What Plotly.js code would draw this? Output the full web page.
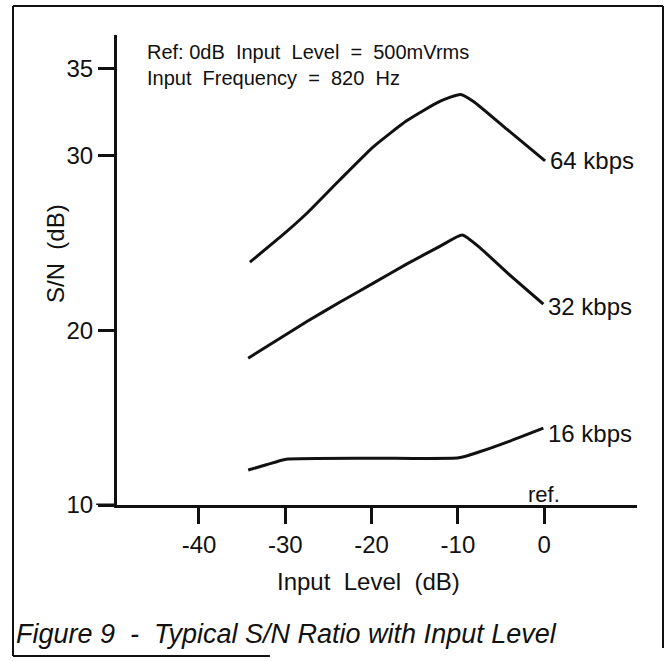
<!DOCTYPE html>
<html>
<head>
<meta charset="utf-8">
<script src="https://cdn.plot.ly/plotly-3.0.1.min.js"></script>
<style>
  html, body { margin: 0; padding: 0; background: #fff; }
  #chart { width: 671px; height: 661px; }
</style>
</head>
<body>
<div id="chart"></div>
<script>
// ---- data ----
var x64 = [-34.1, -30.2, -27.5, -23.7, -19.8, -15.9, -12.1, -9.7, -8.2, -4.3, 0.1];
var y64 = [23.9, 25.5, 26.7, 28.6, 30.5, 32.0, 33.1, 33.5, 33.1, 31.5, 29.7];

var x32 = [-34.3, -31.4, -27.5, -23.7, -19.8, -15.9, -12.1, -9.5, -7.4, -4.3, -0.1];
var y32 = [18.4, 19.3, 20.5, 21.6, 22.7, 23.8, 24.8, 25.45, 24.7, 23.3, 21.5];

var x16 = [-34.3, -32.2, -29.9, -19.8, -9.9, -7.4, -4.3, -0.1];
var y16 = [12.0, 12.3, 12.62, 12.68, 12.7, 13.06, 13.6, 14.4];

var seriesNames = ['64 kbps', '32 kbps', '16 kbps'];
var xTickVals = [-40, -30, -20, -10, 0];
var xTickText = ['-40', '-30', '-20', '-10', '0'];
var yTickVals = [10, 20, 30, 35];
var yTickText = ['10', '20', '30', '35'];

var FONT = 'Liberation Sans, Arial, Helvetica, sans-serif';
var INK = '#111';
var NB = '\u00A0';

var xs = [x64, x32, x16];
var ys = [y64, y32, y16];

var traces = xs.map(function (xv, i) {
  return {
    x: xv, y: ys[i], name: seriesNames[i], type: 'scatter', mode: 'lines',
    line: { color: INK, width: 3, shape: 'spline', smoothing: 0.5 },
    hoverinfo: 'skip'
  };
});

var labelYShift = [0, -2, -5];
var annotations = xs.map(function (xv, i) {
  var n = xv.length - 1;
  return {
    x: xv[n], y: ys[i][n], xref: 'x', yref: 'y',
    text: seriesNames[i], showarrow: false,
    xanchor: 'left', yanchor: 'middle', xshift: 3, yshift: labelYShift[i],
    font: { family: FONT, size: 24, color: INK }
  };
});

annotations.push({
  x: 0, y: 10, xref: 'x', yref: 'y', text: 'ref.', showarrow: false,
  xanchor: 'center', yanchor: 'bottom', yshift: -4,
  font: { family: FONT, size: 22, color: INK }
});
annotations.push({
  x: 0.054, y: 0.936, xref: 'paper', yref: 'paper',
  text: 'Ref:' + NB + '0dB' + NB + NB + 'Input' + NB + NB + 'Level' + NB + NB + '=' + NB + NB + '500mVrms<br>' +
        'Input' + NB + NB + 'Frequency' + NB + NB + '=' + NB + NB + '820' + NB + NB + 'Hz',
  showarrow: false, align: 'left', xanchor: 'left', yanchor: 'middle',
  font: { family: FONT, size: 20, color: INK }
});
annotations.push({
  x: -0.1192, y: 0.534, xref: 'paper', yref: 'paper',
  text: 'S/N' + NB + NB + '(dB)', textangle: -90, showarrow: false,
  xanchor: 'center', yanchor: 'middle',
  font: { family: FONT, size: 24, color: INK }
});
annotations.push({
  x: 0.4837, y: -0.1638, xref: 'paper', yref: 'paper',
  text: 'Input' + NB + NB + 'Level' + NB + NB + '(dB)', showarrow: false,
  xanchor: 'center', yanchor: 'middle',
  font: { family: FONT, size: 24, color: INK }
});
annotations.push({
  x: -0.199, y: -0.2745, xref: 'paper', yref: 'paper',
  text: '<i>Figure' + NB + '9' + NB + NB + '-' + NB + NB + 'Typical' + NB + 'S/N' + NB + 'Ratio' + NB + 'with' + NB + 'Input' + NB + 'Level</i>',
  showarrow: false, xanchor: 'left', yanchor: 'middle',
  font: { family: FONT, size: 27, color: INK }
});

var frame = { color: INK, width: 2 };
var shapes = [
  { type: 'line', xref: 'paper', yref: 'paper', x0: -0.2, x1: 1.05, y0: 1.0617, y1: 1.0617, line: frame },
  { type: 'line', xref: 'paper', yref: 'paper', x0: -0.2, x1: -0.2, y0: 1.0617, y1: -0.3213, line: frame },
  { type: 'line', xref: 'paper', yref: 'paper', x0: 1.05, x1: 1.05, y0: 1.0617, y1: -0.304, line: frame },
  { type: 'line', xref: 'paper', yref: 'paper', x0: -0.2, x1: 0.294, y0: -0.3213, y1: -0.3213, line: frame },
  { type: 'line', xref: 'paper', yref: 'y', x0: -0.04, x1: 0, y0: 10, y1: 10, line: { color: INK, width: 3 } }
];

var layout = {
  width: 671, height: 661,
  margin: { l: 117, r: 34, t: 35, b: 156, pad: 0 },
  paper_bgcolor: '#fff', plot_bgcolor: '#fff',
  showlegend: false,
  font: { family: FONT, color: INK },
  xaxis: {
    range: [-49.5, 10.75], showgrid: false, zeroline: false,
    showline: true, linecolor: INK, linewidth: 3,
    ticks: 'outside', ticklen: 16, tickwidth: 3, tickcolor: INK,
    tickvals: xTickVals, ticktext: xTickText,
    tickfont: { family: FONT, size: 24, color: INK },
    fixedrange: true
  },
  yaxis: {
    range: [10, 36.9], showgrid: false, zeroline: false,
    showline: true, linecolor: INK, linewidth: 3,
    ticks: 'outside', ticklen: 16, tickwidth: 3, tickcolor: INK,
    tickvals: yTickVals, ticktext: yTickText,
    tickfont: { family: FONT, size: 24, color: INK },
    fixedrange: true
  },
  annotations: annotations,
  shapes: shapes
};

Plotly.newPlot('chart', traces, layout, { displayModeBar: false, staticPlot: true });
</script>
</body>
</html>
